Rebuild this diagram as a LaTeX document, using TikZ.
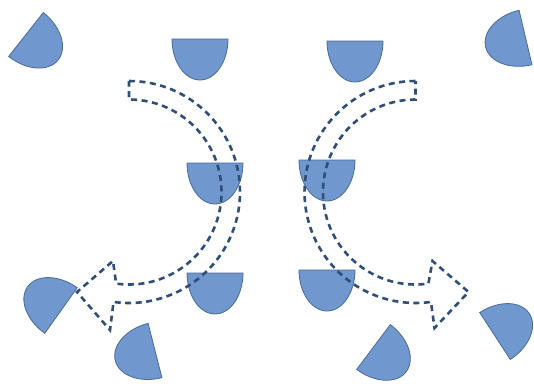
\documentclass[tikz,border=0pt]{standalone}
\usetikzlibrary{calc}
\definecolor{shapefill}{RGB}{112,152,206}
\definecolor{shapeline}{RGB}{72,106,150}
\definecolor{dashcol}{RGB}{47,78,120}
\tikzset{
  halfdisc/.style={fill=shapefill,draw=shapeline,line width=0.8pt},
  dasharrow/.style={draw=dashcol,line width=2.6pt,dash pattern=on 6pt off 4.5pt,line join=miter},
  pics/half/.style={code={
    \path[halfdisc] (-28,0) -- (28,0) arc[start angle=0,end angle=180,x radius=28,y radius=41] -- cycle;
  }}
}
\begin{document}
\begin{tikzpicture}[x=1pt,y=-1pt]
\useasboundingbox (0,0) rectangle (534,383);
% upright half discs
\pic at (200,39) {half};
\pic at (215,163) {half};
\pic at (215,273) {half};
\pic at (355,41) {half};
\pic at (327,160) {half};
\pic at (327,270) {half};
% rotated half discs
\pic[rotate=51.7] at (26,34.5) {half};
\pic[rotate=-76.7] at (525.5,37.5) {half};
\pic[rotate=-125.4] at (61,310.5) {half};
\pic[rotate=-75.7] at (155,350.5) {half};
\pic[rotate=53.1] at (373.5,347) {half};
\pic[rotate=123.1] at (495,336) {half};
% left curved arrow
\coordinate (cL) at (129,192);
\draw[dasharrow] ($(cL)+(-90:111)$) arc[start angle=-90,end angle=98,radius=111]
  -- (110,330) -- (77,292) -- (113,261) -- ($(cL)+(98:92.5)$)
  arc[start angle=98,end angle=-90,radius=92.5] -- cycle;
% right curved arrow (mirror image)
\begin{scope}[shift={(544.5,0)},xscale=-1]
\coordinate (cR) at (129,192);
\draw[dasharrow] ($(cR)+(-90:111)$) arc[start angle=-90,end angle=98,radius=111]
  -- (110,328) -- (76,292) -- (112,261) -- ($(cR)+(98:92.5)$)
  arc[start angle=98,end angle=-90,radius=92.5] -- cycle;
\end{scope}
\end{tikzpicture}
\end{document}
